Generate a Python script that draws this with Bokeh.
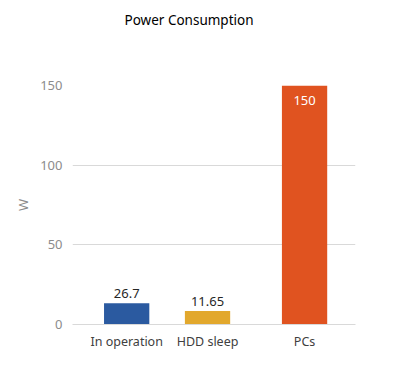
from bokeh.plotting import figure
from bokeh.models import ColumnDataSource, FixedTicker, Title
from bokeh.core.properties import value
from bokeh.embed import file_html
from bokeh.resources import INLINE

categories = ["In operation", "HDD sleep", "PCs"]
positions = [0.67, 1.67, 2.87]
bar_values = [13.3, 8.4, 150]
value_labels = ["26.7", "11.65", "150"]
colors = ["#2B5AA0", "#E2A82D", "#E05320"]
label_colors = ["#262626", "#262626", "#FFFFFF"]
label_offsets = [-10, -10, 15]
y_ticks = [0, 50, 100, 150]

FONT = "Noto Sans"

src = ColumnDataSource(dict(x=positions, top=bar_values, color=colors,
                            label=value_labels, lcolor=label_colors, off=label_offsets))

p = figure(width=392, height=366, output_backend="svg", toolbar_location=None,
           x_range=(0, 3.5), y_range=(0, 150),
           min_border_left=72, min_border_right=37, min_border_top=0, min_border_bottom=42)
p.title = None
spacer = Title(text=" ", text_font_size="1px", standoff=46)
p.add_layout(spacer, "above")
title = Title(text="Power Consumption", align="left", offset=52, text_font=FONT,
              text_font_size="13.5px", text_font_style="normal", text_color="#000000", standoff=16)
p.add_layout(title, "above")

p.vbar(x="x", top="top", width=0.56, bottom=0, color="color", source=src, line_color=None)
p.text(x="x", y="top", text="label", text_color="lcolor", y_offset="off",
       text_align="center", text_baseline="middle", text_font=value(FONT),
       text_font_size="13px", source=src)

p.outline_line_color = None
p.background_fill_color = "white"
p.border_fill_color = "white"

p.xgrid.grid_line_color = None
p.ygrid.grid_line_color = "#D9D9D9"
p.ygrid.ticker = FixedTicker(ticks=y_ticks)

p.yaxis.ticker = FixedTicker(ticks=y_ticks)
p.yaxis.axis_line_color = None
p.yaxis.major_tick_line_color = None
p.yaxis.minor_tick_line_color = None
p.yaxis.major_label_text_color = "#8C8C8C"
p.yaxis.major_label_text_font = FONT
p.yaxis.major_label_text_font_size = "13px"
p.yaxis.major_label_standoff = 4
p.yaxis.axis_label = "W"
p.yaxis.axis_label_text_color = "#8C8C8C"
p.yaxis.axis_label_text_font = FONT
p.yaxis.axis_label_text_font_size = "13px"
p.yaxis.axis_label_text_font_style = "normal"
p.yaxis.axis_label_standoff = 5

p.xaxis.ticker = FixedTicker(ticks=positions)
p.xaxis.major_label_overrides = {pos: c for pos, c in zip(positions, categories)}
p.xaxis.axis_line_color = "#D9D9D9"
p.xaxis.major_tick_line_color = None
p.xaxis.minor_tick_line_color = None
p.xaxis.major_label_text_color = "#404040"
p.xaxis.major_label_text_font = FONT
p.xaxis.major_label_text_font_size = "12.5px"
p.xaxis.major_label_standoff = 2

open("out.html", "w").write(file_html(p, INLINE))
